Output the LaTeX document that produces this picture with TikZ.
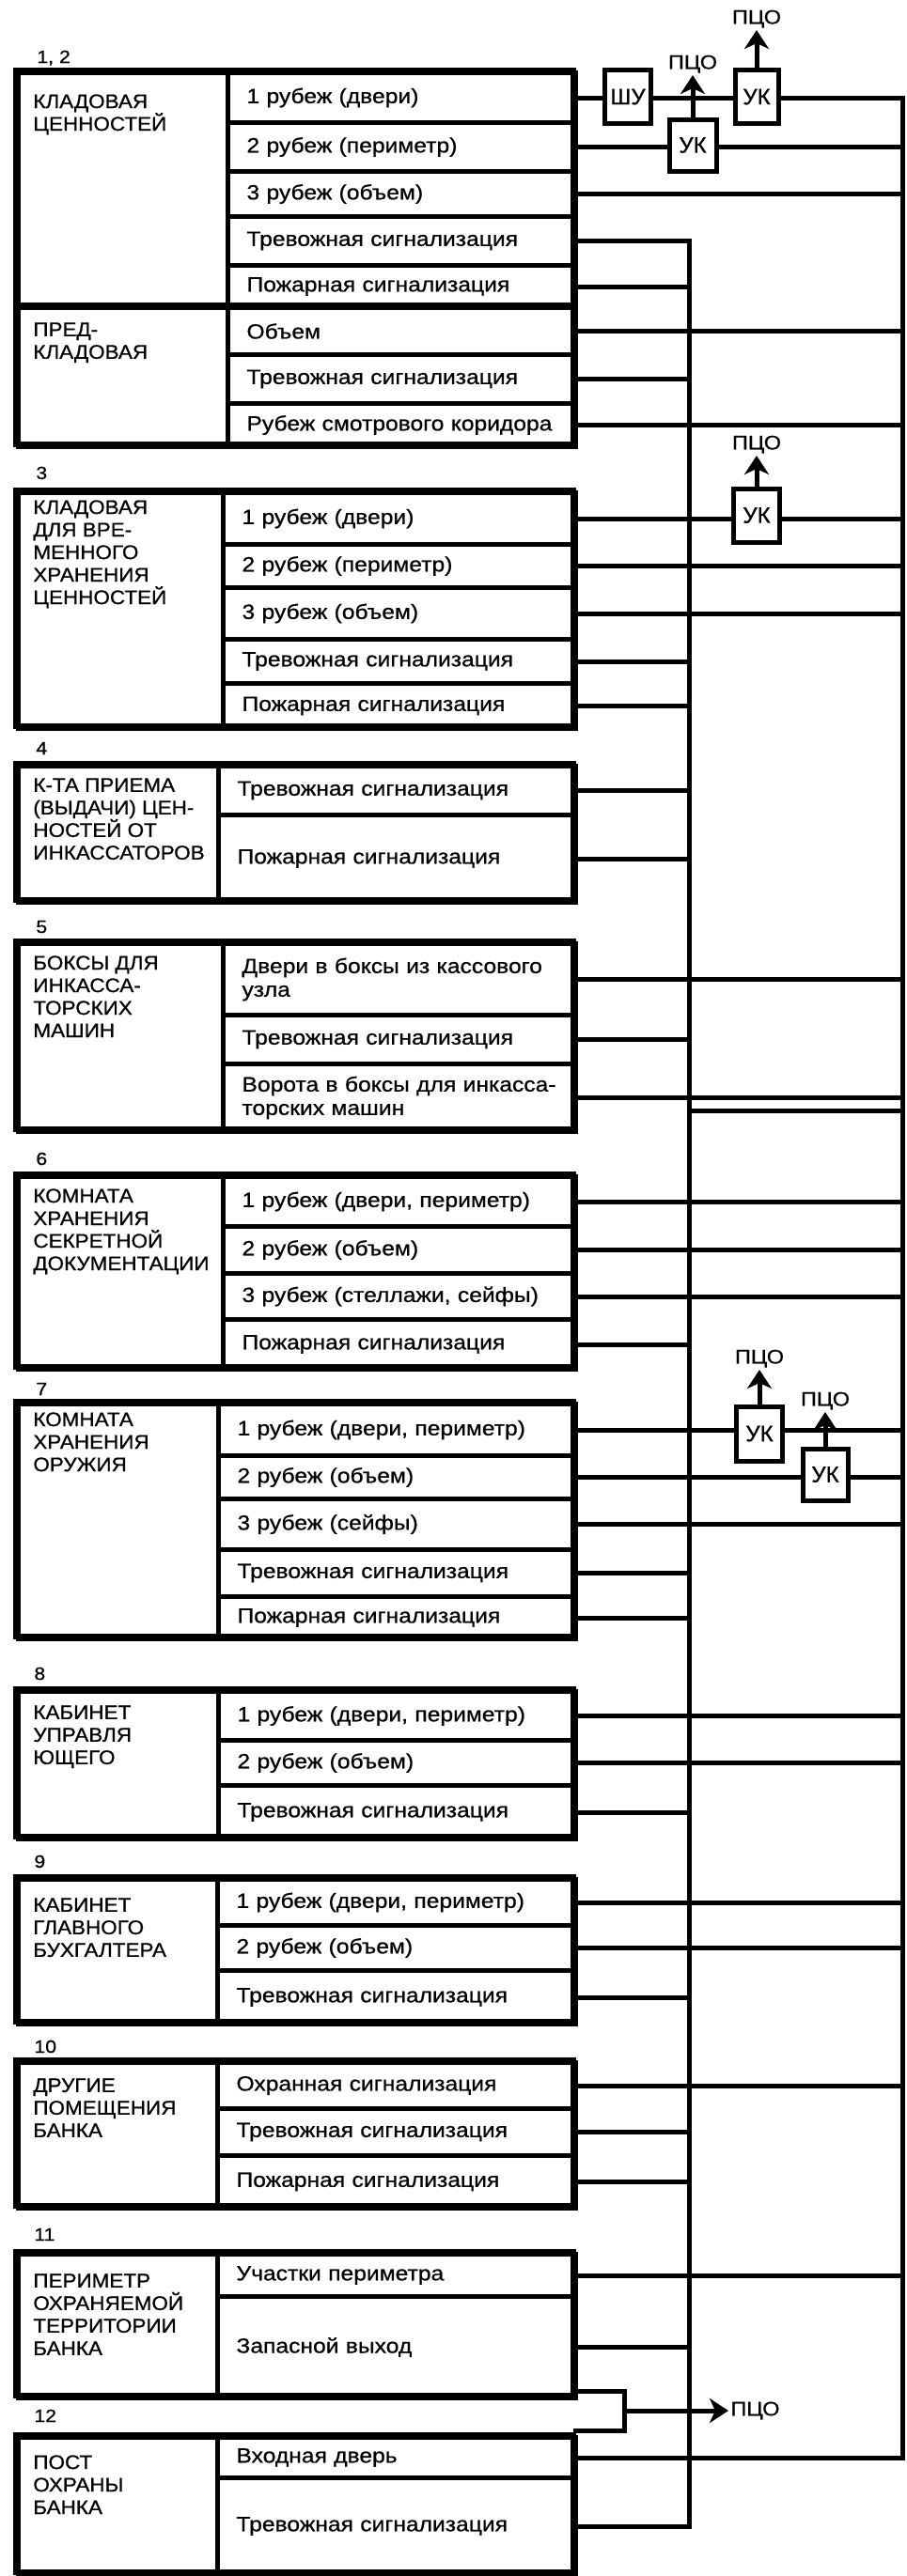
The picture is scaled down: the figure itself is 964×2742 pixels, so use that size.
\documentclass[tikz,border=0pt]{standalone}
\usepackage{fontspec}
\newfontfamily\widefam{Liberation Sans}[FakeStretch=1.12,FakeBold=0.8]
\newfontfamily\namefam{Liberation Sans}[FakeStretch=1.07,FakeBold=0.8]
\newfontfamily\plainfam{Liberation Sans}[FakeBold=0.8]
\usetikzlibrary{arrows.meta,calc}
\newcommand{\rowc}[5]{%
  \pgfmathsetmacro{\myRH}{(#4-#3)*0.5}%
  \pgfmathsetmacro{\myTW}{(610-#2)*0.5-20}%
  \node[rowbox, minimum height=\myRH pt, text width=\myTW pt] (#1) at (#2,#3) {#5};}
\newcommand{\namec}[6]{%
  \pgfmathsetmacro{\myNH}{(#3-#2)*0.5}%
  \pgfmathsetmacro{\myNW}{(#4-17)*0.5}%
  \node[cellbox, minimum height=\myNH pt, minimum width=\myNW pt] (#1) at (17,#2) {};
  \node[nametext] (#1t) at (35,#5) {#6};}
\begin{document}
\begin{tikzpicture}[x=0.5pt,y=-0.5pt,
  cellbox/.style={draw, line width=2.5pt, anchor=north west, inner sep=0pt},
  rowbox/.style={draw, line width=2.5pt, anchor=north west, inner xsep=10pt, inner ysep=0pt,
     align=left, font={\widefam\fontsize{11pt}{12.5pt}\selectfont}},
  nametext/.style={anchor=north west, inner sep=0pt, align=left,
     font={\namefam\fontsize{10.5pt}{12pt}\selectfont}},
  numlbl/.style={anchor=base west, inner sep=0pt, font={\widefam\fontsize{9.5pt}{11pt}\selectfont}},
  outer/.style={line width=3pt},
  conn/.style={line width=2.5pt},
  ukbox/.style={draw, line width=2.5pt, fill=white, inner sep=0pt, font={\plainfam\fontsize{12pt}{14pt}\selectfont}},
  pco/.style={anchor=south, inner sep=1pt, font={\widefam\fontsize{10.5pt}{12pt}\selectfont}},
  arr/.style={line width=2.5pt, -{Stealth[length=10pt,width=13pt,inset=3pt]}}]
\useasboundingbox (0,0) rectangle (964,2742);
\coordinate (RB) at (960,0);
\coordinate (IB) at (733,0);

% ---------- group 1,2
\node[numlbl] (l1) at (39,67) {1, 2};
\namec{n1a}{75}{325}{240}{100}{КЛАДОВАЯ\\ЦЕННОСТЕЙ}
\namec{n1b}{325}{473}{240}{343}{ПРЕД-\\КЛАДОВАЯ}
\rowc{r11}{240}{75}{128}{1 рубеж (двери)}
\rowc{r12}{240}{128}{180}{2 рубеж (периметр)}
\rowc{r13}{240}{180}{228}{3 рубеж (объем)}
\rowc{r14}{240}{228}{280}{Тревожная сигнализация}
\rowc{r15}{240}{280}{325}{Пожарная сигнализация}
\rowc{r16}{240}{325}{375}{Объем}
\rowc{r17}{240}{375}{427}{Тревожная сигнализация}
\rowc{r18}{240}{427}{473}{\mbox{Рубеж смотрового коридора}}
\draw[outer] (17,75) rectangle (610,473);
\draw[outer] (17,325) -- (610,325);

% ---------- group 3
\node[numlbl] (l3) at (38,510) {3};
\namec{n3}{522}{773}{235}{532}{КЛАДОВАЯ\\ДЛЯ ВРЕ-\\МЕННОГО\\ХРАНЕНИЯ\\ЦЕННОСТЕЙ}
\rowc{r31}{235}{522}{577}{1 рубеж (двери)}
\rowc{r32}{235}{577}{623}{2 рубеж (периметр)}
\rowc{r33}{235}{623}{678}{3 рубеж (объем)}
\rowc{r34}{235}{678}{725}{Тревожная сигнализация}
\rowc{r35}{235}{725}{773}{Пожарная сигнализация}
\draw[outer] (17,522) rectangle (610,773);

% ---------- group 4
\node[numlbl] (l4) at (38,803) {4};
\namec{n4}{813}{958}{230}{828}{К-ТА ПРИЕМА\\(ВЫДАЧИ) ЦЕН-\\НОСТЕЙ ОТ\\ИНКАССАТОРОВ}
\rowc{r41}{230}{813}{865}{Тревожная сигнализация}
\rowc{r42}{230}{865}{958}{Пожарная сигнализация}
\draw[outer] (17,813) rectangle (610,958);

% ---------- group 5
\node[numlbl] (l5) at (38,993) {5};
\namec{n5}{1002}{1202}{235}{1017}{БОКСЫ ДЛЯ\\ИНКАССА-\\ТОРСКИХ\\МАШИН}
\rowc{r51}{235}{1002}{1078}{\mbox{Двери в боксы из кассового}\\узла}
\rowc{r52}{235}{1078}{1130}{Тревожная сигнализация}
\rowc{r53}{235}{1130}{1202}{\mbox{Ворота в боксы для инкасса-}\\торских машин}
\draw[outer] (17,1002) rectangle (610,1202);

% ---------- group 6
\node[numlbl] (l6) at (38,1240) {6};
\namec{n6}{1250}{1455}{235}{1265}{КОМНАТА\\ХРАНЕНИЯ\\СЕКРЕТНОЙ\\ДОКУМЕНТАЦИИ}
\rowc{r61}{235}{1250}{1303}{\mbox{1 рубеж (двери, периметр)}}
\rowc{r62}{235}{1303}{1353}{2 рубеж (объем)}
\rowc{r63}{235}{1353}{1402}{\mbox{3 рубеж (стеллажи, сейфы)}}
\rowc{r64}{235}{1402}{1455}{Пожарная сигнализация}
\draw[outer] (17,1250) rectangle (610,1455);

% ---------- group 7
\node[numlbl] (l7) at (38,1485) {7};
\namec{n7}{1492}{1742}{230}{1503}{КОМНАТА\\ХРАНЕНИЯ\\ОРУЖИЯ}
\rowc{r71}{230}{1492}{1547}{\mbox{1 рубеж (двери, периметр)}}
\rowc{r72}{230}{1547}{1593}{2 рубеж (объем)}
\rowc{r73}{230}{1593}{1647}{3 рубеж (сейфы)}
\rowc{r74}{230}{1647}{1697}{Тревожная сигнализация}
\rowc{r75}{230}{1697}{1742}{Пожарная сигнализация}
\draw[outer] (17,1492) rectangle (610,1742);

% ---------- group 8
\node[numlbl] (l8) at (36,1788) {8};
\namec{n8}{1798}{1955}{230}{1815}{КАБИНЕТ\\УПРАВЛЯ\\ЮЩЕГО}
\rowc{r81}{230}{1798}{1850}{\mbox{1 рубеж (двери, периметр)}}
\rowc{r82}{230}{1850}{1898}{2 рубеж (объем)}
\rowc{r83}{230}{1898}{1955}{Тревожная сигнализация}
\draw[outer] (17,1798) rectangle (610,1955);

% ---------- group 9
\node[numlbl] (l9) at (36,1988) {9};
\namec{n9}{1998}{2152}{229}{2020}{КАБИНЕТ\\ГЛАВНОГО\\БУХГАЛТЕРА}
\rowc{r91}{229}{1998}{2047}{\mbox{1 рубеж (двери, периметр)}}
\rowc{r92}{229}{2047}{2095}{2 рубеж (объем)}
\rowc{r93}{229}{2095}{2152}{Тревожная сигнализация}
\draw[outer] (17,1998) rectangle (610,2152);

% ---------- group 10
\node[numlbl] (l10) at (36,2185) {10};
\namec{n10}{2193}{2348}{229}{2212}{ДРУГИЕ\\ПОМЕЩЕНИЯ\\БАНКА}
\rowc{r101}{229}{2193}{2242}{Охранная сигнализация}
\rowc{r102}{229}{2242}{2292}{Тревожная сигнализация}
\rowc{r103}{229}{2292}{2348}{Пожарная сигнализация}
\draw[outer] (17,2193) rectangle (610,2348);

% ---------- group 11
\node[numlbl] (l11) at (36,2385) {11};
\namec{n11}{2397}{2550}{229}{2420}{ПЕРИМЕТР\\ОХРАНЯЕМОЙ\\ТЕРРИТОРИИ\\БАНКА}
\rowc{r111}{229}{2397}{2442}{Участки периметра}
\rowc{r112}{229}{2442}{2550}{Запасной выход}
\draw[outer] (17,2397) rectangle (610,2550);

% ---------- group 12
\node[numlbl] (l12) at (36,2578) {12};
\namec{n12}{2592}{2738}{229}{2613}{ПОСТ\\ОХРАНЫ\\БАНКА}
\rowc{r121}{229}{2592}{2635}{Входная дверь}
\rowc{r122}{229}{2635}{2738}{Тревожная сигнализация}
\draw[outer] (17,2592) rectangle (610,2738);

% ---------- devices
\node[ukbox, minimum width=24.5pt, minimum height=28.5pt] (shu) at (668,103) {ШУ};
\node[ukbox, minimum width=23pt, minimum height=28.5pt] (uk1a) at (805,103) {УК};
\node[ukbox, minimum width=25pt, minimum height=27.5pt] (uk1b) at (737,154.5) {УК};
\node[ukbox, minimum width=24.5pt, minimum height=28.5pt] (uk3) at (805,548.5) {УК};
\node[ukbox, minimum width=24.5pt, minimum height=29pt] (uk7a) at (808,1526) {УК};
\node[ukbox, minimum width=24pt, minimum height=27.5pt] (uk7b) at (878,1569.5) {УК};

\node[pco] (p1a) at (805,32) {ПЦО};
\node[pco] (p1b) at (737,80) {ПЦО};
\node[pco] (p3) at (805,485) {ПЦО};
\node[pco] (p7a) at (808,1458) {ПЦО};
\node[pco] (p7b) at (878,1503) {ПЦО};
\node[pco, anchor=west] (pB) at (775,2566) {ПЦО};

% ---------- buses
\draw[conn] (r11.east -| uk1a.east) -- (r11.east -| RB) -- (r121.east -| RB) -- (r121.east);
\draw[conn] (r14.east) -- (r14.east -| IB) -- (r122.east -| IB) -- (r122.east);

% ---------- lines to the right bus
\foreach \r in {r13,r16,r18,r32,r33,r51,r53,r61,r62,r63,r73,r81,r82,r91,r92,r101,r111}
  \draw[conn] (\r.east) -- (\r.east -| RB);
% ---------- lines to the inner bus
\foreach \r in {r15,r17,r34,r35,r41,r42,r52,r64,r74,r75,r83,r93,r102,r103,r112}
  \draw[conn] (\r.east) -- (\r.east -| IB);

\coordinate (xj) at (733,1182);
\draw[conn] (xj) -- (xj -| RB);

% ---------- lines through devices
\draw[conn] (r11.east) -- (r11.east -| shu.west);
\draw[conn] (r11.east -| shu.east) -- (r11.east -| uk1a.west);
\draw[conn] (r12.east) -- (r12.east -| uk1b.west);
\draw[conn] (r12.east -| uk1b.east) -- (r12.east -| RB);
\draw[conn] (r31.east) -- (r31.east -| uk3.west);
\draw[conn] (r31.east -| uk3.east) -- (r31.east -| RB);
\draw[conn] (r71.east) -- (r71.east -| uk7a.west);
\draw[conn] (r71.east -| uk7a.east) -- (r71.east -| RB);
\draw[conn] (r72.east) -- (r72.east -| uk7b.west);
\draw[conn] (r72.east -| uk7b.east) -- (r72.east -| RB);

\draw[arr] (uk1a.north) -- (p1a.south);
\draw[arr] (uk1b.north) -- (p1b.south);
\draw[arr] (uk3.north) -- (p3.south);
\draw[arr] (uk7a.north) -- (p7a.south);
\draw[arr] (uk7b.north) -- (p7b.south);

% ---------- bracket of 11 and 12
\coordinate (bk1) at (610,2545);
\coordinate (bk2) at (664,2566);
\coordinate (bk3) at (610,2587);
\draw[conn] (bk1) -| (bk2 |- bk3) -- (bk3);
\draw[arr] (bk2) -- (pB.west);
\end{tikzpicture}
\end{document}
